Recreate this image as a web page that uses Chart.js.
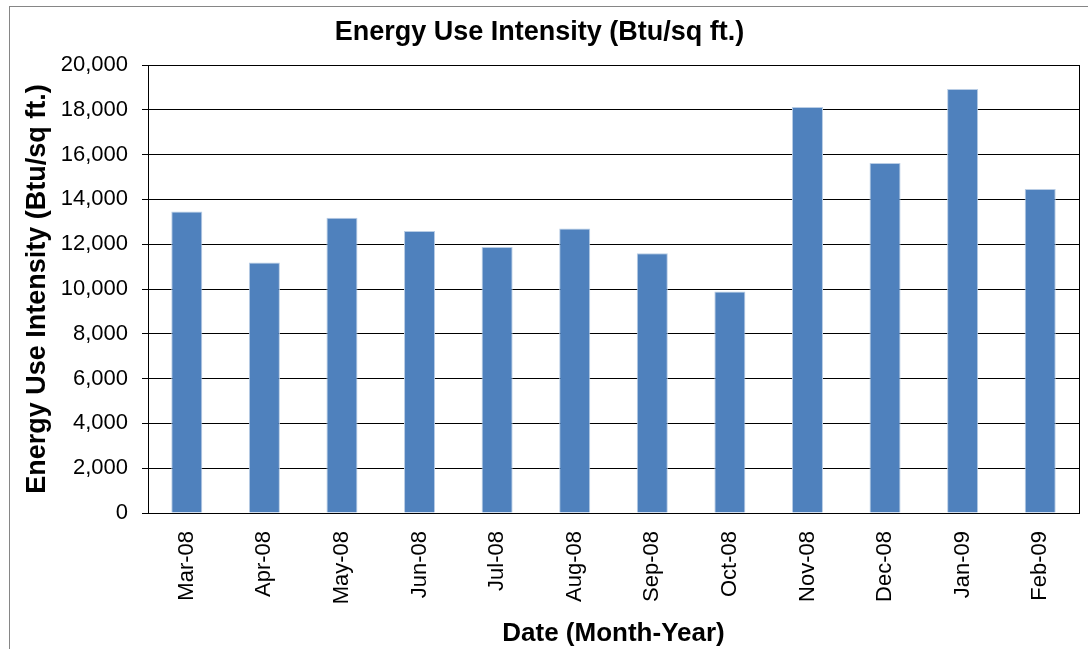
<!DOCTYPE html>
<html>
<head>
<meta charset="utf-8">
<script src="https://cdn.jsdelivr.net/npm/chart.js@4"></script>
<style>
  html, body { margin: 0; padding: 0; background: #fff; }
  #wrap { position: relative; width: 1088px; height: 649px; overflow: hidden; }
  #frame { position: absolute; left: 9px; top: 6px; width: 1100px; height: 700px; border: 1px solid #868686; box-sizing: border-box; }
  canvas { position: absolute; left: 0; top: 0; }
</style>
</head>
<body>
<div id="wrap">
  <div id="frame"></div>
  <canvas id="euiChart" width="1088" height="649"></canvas>
</div>
<script>
// Data
const months = ['Mar-08', 'Apr-08', 'May-08', 'Jun-08', 'Jul-08', 'Aug-08',
                'Sep-08', 'Oct-08', 'Nov-08', 'Dec-08', 'Jan-09', 'Feb-09'];
const euiValues = [13460, 11180, 13180, 12590, 11870, 12700,
                   11600, 9890, 18130, 15620, 18930, 14460];
const yTicks = [0, 2000, 4000, 6000, 8000, 10000, 12000, 14000, 16000, 18000, 20000];

const barColor = '#4F81BD';
const fontFamily = "'Liberation Sans', Arial, sans-serif";

// Draws the right edge of the plot area box
const plotBorder = {
    id: 'plotBorder',
    afterDatasetsDraw(chart) {
        const { ctx, chartArea: a } = chart;
        ctx.save();
        ctx.strokeStyle = '#000';
        ctx.lineWidth = 1;
        ctx.beginPath();
        ctx.moveTo(Math.round(a.right) + 0.5, a.top);
        ctx.lineTo(Math.round(a.right) + 0.5, a.bottom);
        ctx.stroke();
        ctx.restore();
    }
};

new Chart(document.getElementById('euiChart'), {
    type: 'bar',
    data: {
        labels: months,
        datasets: [{
            label: 'Energy Use Intensity',
            data: euiValues,
            backgroundColor: barColor,
            borderColor: '#B9CDE5',
            borderWidth: 1,
            barPercentage: 0.4,
            categoryPercentage: 1.0
        }]
    },
    options: {
        responsive: false,
        animation: false,
        layout: { padding: { left: 0, right: 9, top: 0, bottom: 0 } },
        plugins: {
            legend: { display: false },
            tooltip: { enabled: false },
            title: {
                display: true,
                text: 'Energy Use Intensity (Btu/sq ft.)',
                color: '#000',
                font: { family: fontFamily, size: 27, weight: 'bold' },
                padding: { top: 16, bottom: 16.6 }
            }
        },
        scales: {
            x: {
                grid: { display: false, drawTicks: false },
                border: { display: true, color: '#000', width: 1 },
                ticks: {
                    color: '#000',
                    font: { family: fontFamily, size: 22 },
                    minRotation: 90,
                    maxRotation: 90,
                    padding: 18,
                    autoSkip: false
                },
                title: {
                    display: true,
                    text: 'Date (Month-Year)',
                    color: '#000',
                    font: { family: fontFamily, size: 26, weight: 'bold' },
                    padding: { top: 0, bottom: 0 }
                },
                afterFit(scale) { scale.height = 136; }
            },
            y: {
                min: 0,
                max: 20000,
                afterBuildTicks(scale) { scale.ticks = yTicks.map(v => ({ value: v })); },
                grid: { color: '#000', lineWidth: 1, tickLength: 6 },
                border: { display: true, color: '#000', width: 1 },
                ticks: {
                    color: '#000',
                    font: { family: fontFamily, size: 22 },
                    padding: 14,
                    callback: v => v.toLocaleString('en-US')
                },
                title: {
                    display: true,
                    text: 'Energy Use Intensity (Btu/sq ft.)',
                    color: '#000',
                    font: { family: fontFamily, size: 27, weight: 'bold' },
                    padding: { top: 21, bottom: 0 }
                },
                afterFit(scale) { scale.width = 148; }
            }
        }
    },
    plugins: [plotBorder]
});
</script>
</body>
</html>
